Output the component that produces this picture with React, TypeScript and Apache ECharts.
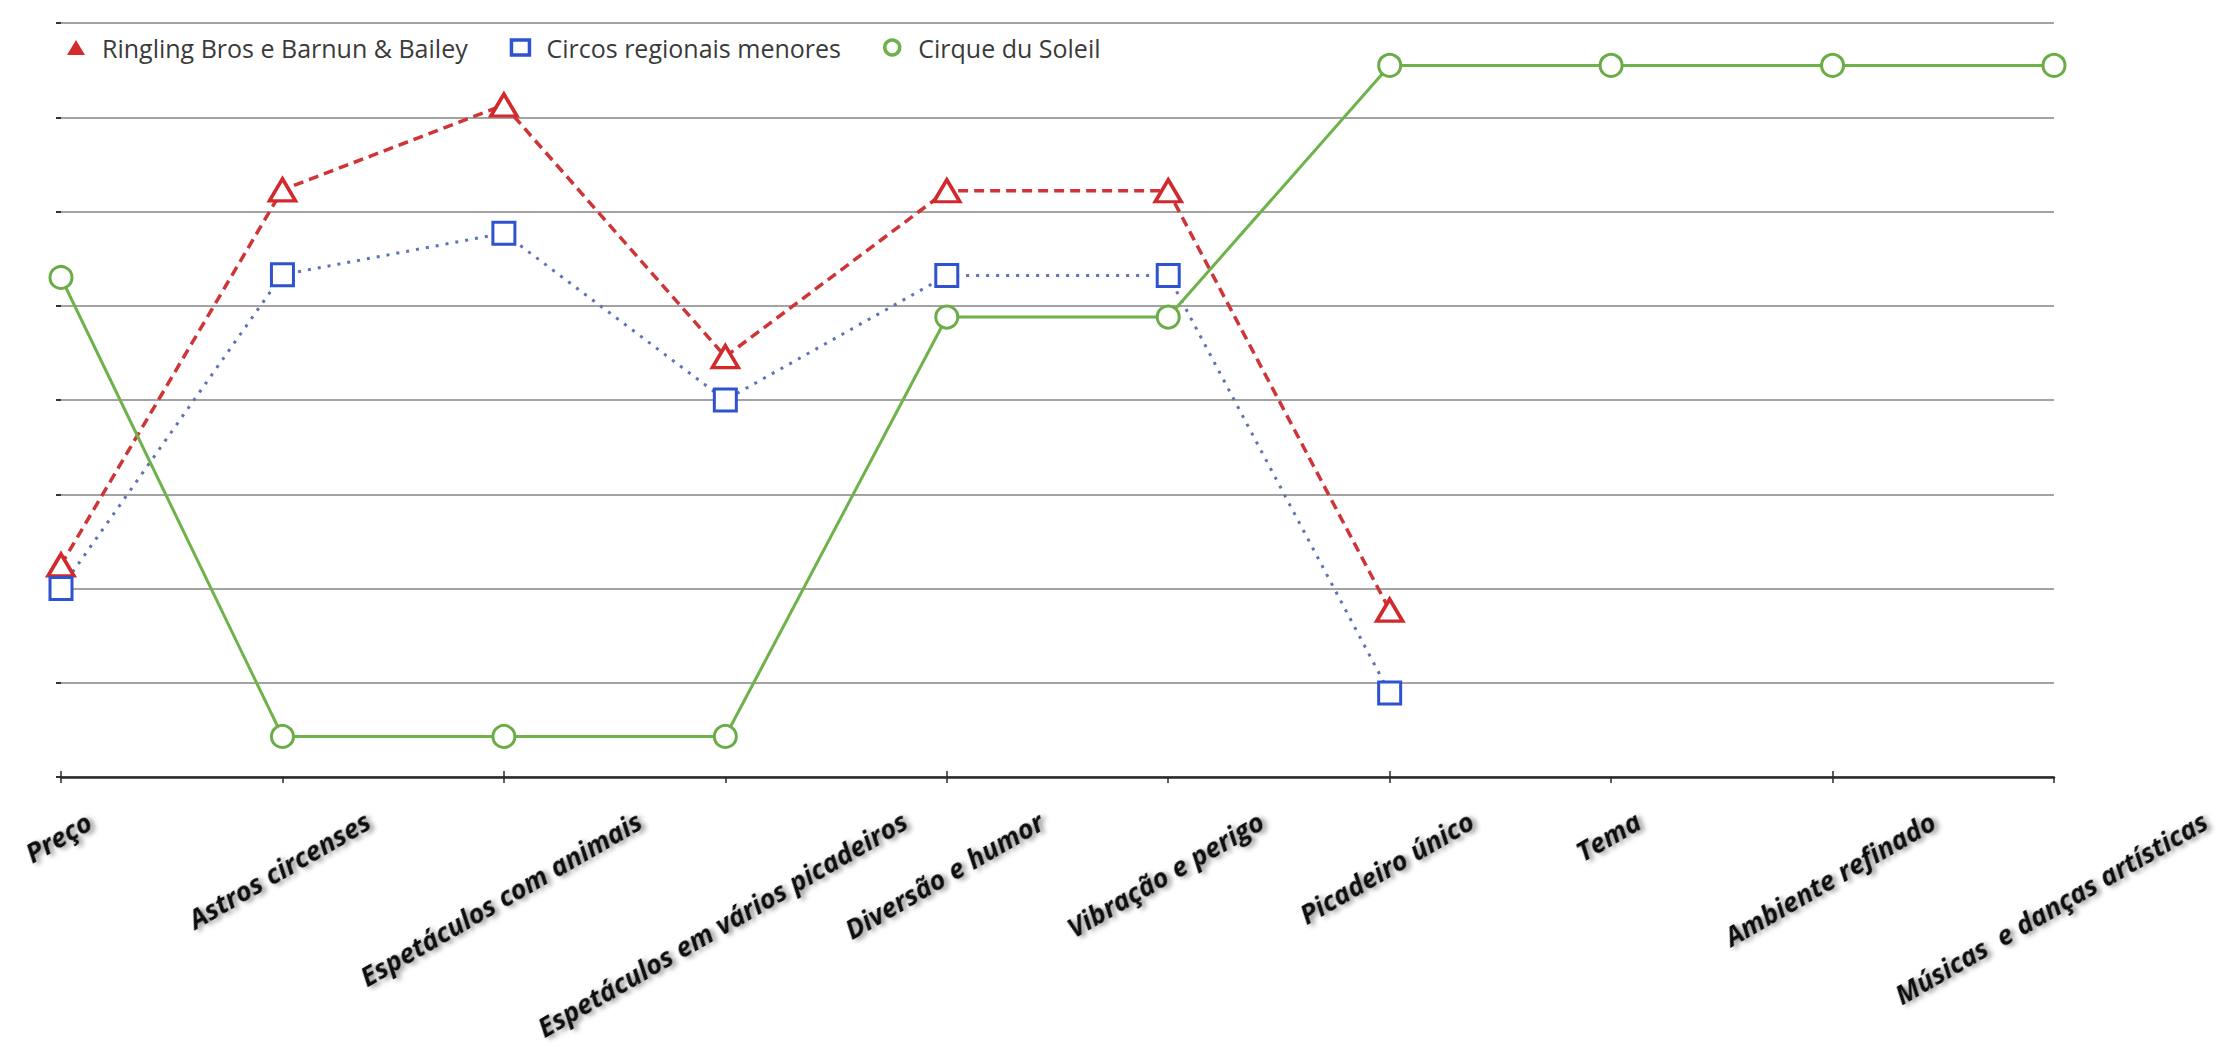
import React, { useEffect, useRef } from "react";
import * as echarts from "echarts";

const categories = [
  "Preço",
  "Astros circenses",
  "Espetáculos com animais",
  "Espetáculos em vários picadeiros",
  "Diversão e humor",
  "Vibração e perigo",
  "Picadeiro único",
  "Tema",
  "Ambiente refinado",
  "Músicas  e danças artísticas",
];
const seriesNames = [
  "Ringling Bros e Barnun & Bailey",
  "Circos regionais menores",
  "Cirque du Soleil",
];
const ringling = [2.25, 6.23, 7.13, 4.46, 6.22, 6.22, 1.77, null, null, null];
const circos = [2.0, 5.33, 5.77, 4.0, 5.32, 5.32, 0.89, null, null, null];
const cirque = [5.3, 0.43, 0.43, 0.43, 4.88, 4.88, 7.55, 7.55, 7.55, 7.55];
const yMin = 0;
const yMax = 8;
const yInterval = 1;

const LABEL_FONT_FAMILY = "Open Sans";
const LABEL_FONT_SIZE = 27;
const LABEL_ROTATE = 30;

function measureText(text: string, font: string): number {
  const ctx = document.createElement("canvas").getContext("2d");
  if (!ctx) return text.length * 14;
  ctx.font = font;
  return ctx.measureText(text).width;
}

export default function App() {
  const ref = useRef<HTMLDivElement>(null);

  useEffect(() => {
    if (!ref.current) return;
    const chart = echarts.init(ref.current, null, { renderer: "svg" });
    const theta = (LABEL_ROTATE * Math.PI) / 180;
    const font = `italic bold ${LABEL_FONT_SIZE}px "${LABEL_FONT_FAMILY}"`;
    const labelStyle = {
      fontFamily: LABEL_FONT_FAMILY,
      fontSize: LABEL_FONT_SIZE,
      fontWeight: "bold",
      fontStyle: "italic",
      color: "#111111",
      textShadowColor: "rgba(0,0,0,0.45)",
      textShadowBlur: 5,
      textShadowOffsetX: 3,
      textShadowOffsetY: 3,
    };
    // Center each rotated label's bounding box on its tick (top edge at a fixed distance below the axis)
    const catData = categories.map((c) => {
      const w = measureText(c, font);
      const s = Math.sin(theta);
      const co = Math.cos(theta);
      return {
        value: c,
        textStyle: {
          ...labelStyle,
          align: "center",
          verticalAlign: "top",
          padding: [Math.max(0, (w * s * co) / 2 - 5), w * s * s + 17, 0, 0],
        },
      };
    });

    const option: any = {
      animation: false,
      backgroundColor: "#ffffff",
      grid: { left: 61, right: 177, top: 23, bottom: 270, outerBoundsMode: "none", containLabel: false },
      legend: {
        left: 62,
        top: 30,
        itemGap: 42,
        itemWidth: 18,
        itemHeight: 15,
        selectedMode: false,
        textStyle: {
          fontFamily: "Open Sans",
          fontSize: 25,
          color: "#3a3a3a",
          padding: [0, 0, 0, 12],
        },
        data: [
          { name: seriesNames[0], icon: "triangle", itemStyle: { color: "#d42a2c", borderWidth: 0 } },
          { name: seriesNames[1], icon: "rect", itemStyle: { color: "#ffffff", borderColor: "#2f52d0", borderWidth: 3.5 } },
          { name: seriesNames[2], icon: "circle", itemStyle: { color: "#ffffff", borderColor: "#6db24a", borderWidth: 3.5 } },
        ],
      },
      xAxis: [
        {
          type: "category",
          data: catData,
          boundaryGap: false,
          position: "bottom",
          axisLine: { show: true, lineStyle: { color: "#2a2a2a", width: 2.5 } },
          axisTick: { show: true, length: 6, lineStyle: { color: "#2a2a2a", width: 1.5 } },
          splitLine: { show: false },
          axisLabel: {
            interval: 0,
            rotate: LABEL_ROTATE,
            align: "center",
            verticalAlign: "top",
            margin: 30,
            ...labelStyle,
          },
        },
        {
          type: "category",
          data: categories,
          boundaryGap: false,
          position: "bottom",
          axisLine: { show: false },
          axisTick: { show: true, inside: true, length: 6, lineStyle: { color: "#2a2a2a", width: 1.5 } },
          axisLabel: { show: false },
          splitLine: { show: false },
        },
      ],
      yAxis: {
        type: "value",
        min: yMin,
        max: yMax,
        interval: yInterval,
        axisLine: { show: false },
        axisLabel: { show: false },
        axisTick: { show: true, length: 5, lineStyle: { color: "#333333", width: 2 } },
        splitLine: { show: true, lineStyle: { color: "#a3a3a3", width: 1.8 } },
      },
      series: [
        {
          name: seriesNames[0],
          type: "line",
          data: ringling,
          symbol: "triangle",
          symbolSize: [26, 22],
          z: 3,
          itemStyle: { color: "#ffffff", borderColor: "#d3282c", borderWidth: 3.5 },
          lineStyle: { color: "#cf3436", width: 3.5, type: [10, 6] },
        },
        {
          name: seriesNames[1],
          type: "line",
          data: circos,
          symbol: "rect",
          symbolSize: 22,
          z: 3,
          itemStyle: { color: "#ffffff", borderColor: "#2f52d0", borderWidth: 3 },
          lineStyle: { color: "#5e72b6", width: 3, type: [3, 7] },
        },
        {
          name: seriesNames[2],
          type: "line",
          data: cirque,
          symbol: "circle",
          symbolSize: 22,
          z: 3,
          itemStyle: { color: "#ffffff", borderColor: "#6aad46", borderWidth: 3 },
          lineStyle: { color: "#6db24a", width: 3 },
        },
      ],
    };
    chart.setOption(option);
    return () => chart.dispose();
  }, []);

  return (
    <div
      ref={ref}
      style={{ position: "fixed", left: 0, top: 0, width: 2231, height: 1047, background: "#fff" }}
    />
  );
}
